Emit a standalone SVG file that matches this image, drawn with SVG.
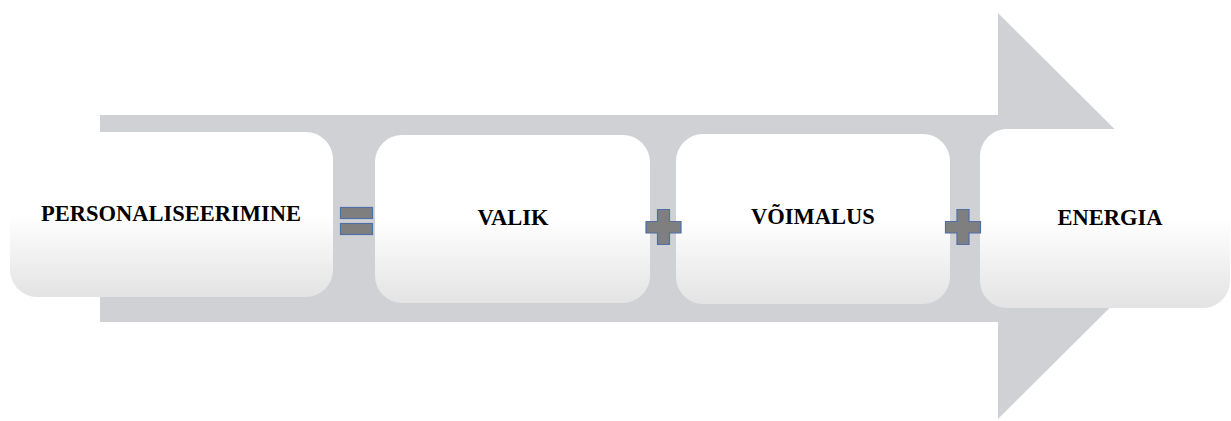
<svg xmlns="http://www.w3.org/2000/svg" width="1231" height="421" viewBox="0 0 1231 421">
  <defs>
    <linearGradient id="boxFill" x1="0" y1="0" x2="0" y2="1">
      <stop offset="0" stop-color="#ffffff"/>
      <stop offset="0.5" stop-color="#ffffff"/>
      <stop offset="1" stop-color="#e3e3e4"/>
    </linearGradient>
    <style>
      .box { fill: url(#boxFill); }
      .label { font-family: "Liberation Serif", "Times New Roman", serif; font-weight: bold; font-size: 22.5px; fill: #000; text-anchor: middle; }
      .op { fill: #7f7f7f; stroke: #4f6fa6; stroke-width: 1.2; }
    </style>
  </defs>

  <rect width="1231" height="421" fill="#ffffff"/>

  <!-- background process arrow -->
  <path id="flow-arrow" d="M100 115 H998 V13 L1202 216 L998 419 V322 H100 Z" fill="#d0d1d5"/>

  <g id="node-personaliseerimine">
    <rect class="box" x="10" y="132" width="323" height="165" rx="27"/>
    <text class="label" x="171" y="221">PERSONALISEERIMINE</text>
  </g>

  <g id="node-valik">
    <rect class="box" x="375" y="135" width="275" height="168" rx="27"/>
    <text class="label" x="513" y="225">VALIK</text>
  </g>

  <g id="node-voimalus">
    <rect class="box" x="676" y="134" width="274" height="170" rx="27"/>
    <text class="label" x="813" y="224">VÕIMALUS</text>
  </g>

  <g id="node-energia">
    <rect class="box" x="980" y="129" width="250" height="179" rx="27"/>
    <text class="label" x="1110" y="225">ENERGIA</text>
  </g>

  <g id="connectors">
    <!-- equals sign -->
    <rect class="op" x="340.5" y="207.5" width="32" height="11"/>
    <rect class="op" x="340.5" y="223.5" width="32" height="11"/>
    <!-- plus signs -->
    <path class="op" d="M657.5 209.5 H669.5 V221.5 H681 V233 H669.5 V244.5 H657.5 V233 H646 V221.5 H657.5 Z"/>
    <path class="op" d="M957 209.5 H969 V221.5 H980.5 V233 H969 V244.5 H957 V233 H945.5 V221.5 H957 Z"/>
  </g>
</svg>
